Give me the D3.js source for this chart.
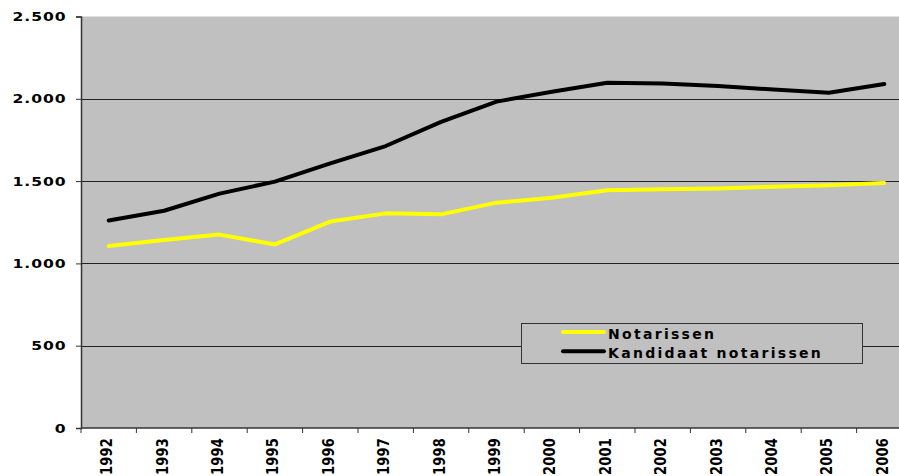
<!DOCTYPE html>
<html>
<head>
<meta charset="utf-8">
<script src="https://cdn.jsdelivr.net/npm/d3@7"></script>
<style>
  html, body { margin: 0; padding: 0; background: #ffffff; overflow: hidden; }
  svg { display: block; }
  text { font-family: "DejaVu Sans", Verdana, sans-serif; font-weight: bold; fill: #000; }
</style>
</head>
<body>
<svg id="chart" width="899" height="476"></svg>
<script>
const years = ["1992","1993","1994","1995","1996","1997","1998","1999","2000","2001","2002","2003","2004","2005","2006"];
const notarissen = [1106, 1142, 1175, 1115, 1254, 1304, 1298, 1369, 1399, 1444, 1451, 1455, 1466, 1475, 1489];
const kandidaat  = [1261, 1320, 1424, 1497, 1608, 1713, 1860, 1983, 2043, 2098, 2093, 2078, 2056, 2037, 2090];
const yTicks = [0, 500, 1000, 1500, 2000, 2500];
const seriesNames = ["Notarissen", "Kandidaat notarissen"];
const seriesColors = ["#ffff00", "#000000"];

const svg = d3.select("#chart");
const plot = { left: 81, right: 912, top: 16.5, bottom: 428 };

const x = d3.scaleBand().domain(years).range([plot.left, plot.right]).padding(0);
const y = d3.scaleLinear().domain([0, 2500]).range([plot.bottom, plot.top]);

const nl = d3.formatLocale({ decimal: ",", thousands: ".", grouping: [3], currency: ["", ""] });
const fmt = nl.format(",");

// plot area
svg.append("rect")
  .attr("x", plot.left).attr("y", plot.top)
  .attr("width", plot.right - plot.left).attr("height", plot.bottom - plot.top)
  .attr("fill", "#c0c0c0");

// gridlines
svg.append("g").selectAll("line")
  .data(yTicks.filter(d => d > 0))
  .join("line")
  .attr("x1", plot.left).attr("x2", plot.right)
  .attr("y1", d => Math.round(y(d)) + 0.5).attr("y2", d => Math.round(y(d)) + 0.5)
  .attr("stroke", d => d === 2500 ? "#c0c0c0" : "#222")
  .attr("stroke-width", 1);

// y axis
const yAxis = d3.axisLeft(y).tickValues(yTicks).tickFormat(fmt).tickSize(5).tickPadding(7);
const gy = svg.append("g").attr("transform", `translate(${plot.left},0)`).call(yAxis);
gy.select(".domain").attr("stroke", "#333").attr("stroke-width", 1.5);
gy.selectAll(".tick line").attr("stroke", "#333");
gy.selectAll(".tick text")
  .attr("x", -12)
  .attr("transform", "scale(1.2,1)")
  .style("font-family", '"DejaVu Sans", Verdana, sans-serif')
  .style("font-weight", "bold")
  .style("font-size", "13px")
  .style("letter-spacing", "0.8px")
  .attr("fill", "#000");

// x axis line
svg.append("line")
  .attr("x1", plot.left).attr("x2", plot.right)
  .attr("y1", plot.bottom).attr("y2", plot.bottom)
  .attr("stroke", "#333").attr("stroke-width", 1.5);

// x tick marks between categories
svg.append("g").selectAll("line")
  .data(years)
  .join("line")
  .attr("x1", d => x(d)).attr("x2", d => x(d))
  .attr("y1", plot.bottom).attr("y2", plot.bottom + 5)
  .attr("stroke", "#333").attr("stroke-width", 1);

// x labels
svg.append("g").selectAll("text")
  .data(years)
  .join("text")
  .attr("transform", d => `translate(${x(d) + x.bandwidth() / 2 + 3.5},438) rotate(-90) scale(1,1.2)`)
  .attr("text-anchor", "end")
  .style("font-size", "13px")
  .style("letter-spacing", "0.2px")
  .text(d => d);

// lines
const line = d3.line()
  .x((d, i) => x(years[i]) + x.bandwidth() / 2)
  .y(d => y(d));

[notarissen, kandidaat].forEach((vals, k) => {
  svg.append("path")
    .datum(vals)
    .attr("fill", "none")
    .attr("stroke", seriesColors[k])
    .attr("stroke-width", 4)
    .attr("stroke-linejoin", "round")
    .attr("stroke-linecap", "round")
    .attr("d", line);
});

// legend
const lg = svg.append("g");
lg.append("rect")
  .attr("x", 521.5).attr("y", 323.5).attr("width", 341).attr("height", 40)
  .attr("fill", "#c0c0c0").attr("stroke", "#333").attr("stroke-width", 1);
seriesNames.forEach((name, k) => {
  const ly = 332 + k * 19.3;
  lg.append("line")
    .attr("x1", 563).attr("x2", 604)
    .attr("y1", ly).attr("y2", ly)
    .attr("stroke", seriesColors[k]).attr("stroke-width", 4)
    .attr("stroke-linecap", "round");
  lg.append("text")
    .attr("x", 608).attr("y", ly + 6.5)
    .style("font-size", "14px")
    .style("letter-spacing", "2.3px")
    .text(name);
});
</script>
</body>
</html>
